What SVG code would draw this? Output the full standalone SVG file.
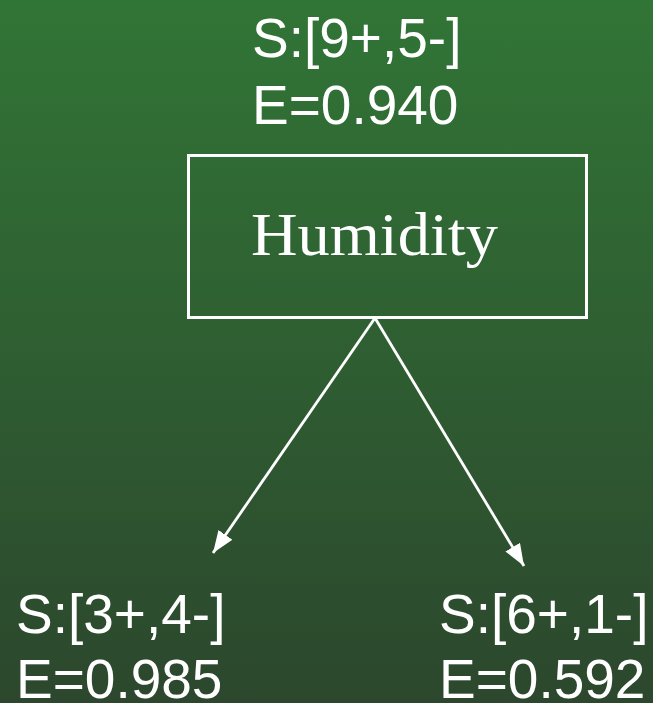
<svg xmlns="http://www.w3.org/2000/svg" width="653" height="703" viewBox="0 0 653 703">
<defs>
<linearGradient id="bg" x1="0" y1="0" x2="0" y2="1">
<stop offset="0" stop-color="#317536"/>
<stop offset="1" stop-color="#2c472d"/>
</linearGradient>
<marker id="arr" viewBox="0 0 22 17" refX="22" refY="8.5" markerWidth="22" markerHeight="17" markerUnits="userSpaceOnUse" orient="auto">
<path d="M0,0 L22,8.5 L0,17 Z" fill="#fff"/>
</marker>
<style>
.lbl{font-family:"Liberation Sans",Arial,sans-serif;font-size:55px;fill:#fff}
.node{fill:none;stroke:#fff;stroke-width:3}
.name{font-family:"Liberation Serif","Times New Roman",serif;font-size:62px;fill:#fff}
.edge{stroke:#fff;stroke-width:2.8;fill:none}
</style>
</defs>
<rect x="0" y="0" width="653" height="703" fill="url(#bg)"/>
<g id="root">
<text class="lbl" x="252" y="57">S:[9+,5-]</text>
<text class="lbl" x="252" y="124">E=0.940</text>
<rect class="node" x="188.5" y="155.5" width="398" height="162"/>
<text class="name" x="251" y="255" textLength="247" lengthAdjust="spacingAndGlyphs">Humidity</text>
</g>
<g id="left">
<text class="lbl" x="16" y="633">S:[3+,4-]</text>
<text class="lbl" x="16" y="698">E=0.985</text>
</g>
<g id="right">
<text class="lbl" x="439" y="633">S:[6+,1-]</text>
<text class="lbl" x="439" y="698">E=0.592</text>
</g>
<g id="edges">
<line class="edge" x1="375" y1="318" x2="213" y2="553" marker-end="url(#arr)"/>
<line class="edge" x1="375" y1="318" x2="524" y2="566" marker-end="url(#arr)"/>
</g>
</svg>
